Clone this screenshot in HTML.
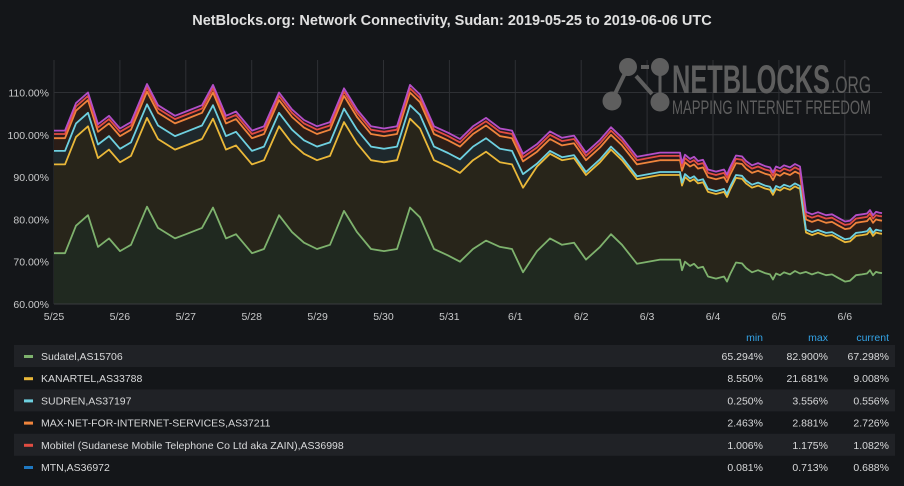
<!DOCTYPE html>
<html><head><meta charset="utf-8"><style>
html,body{margin:0;padding:0;background:#141619;width:904px;height:486px;overflow:hidden;font-family:"Liberation Sans",sans-serif}
svg{display:block}
</style></head><body>
<svg id="s" width="904" height="486" xmlns="http://www.w3.org/2000/svg">
<rect width="904" height="486" fill="#141619"/>
<text x="452" y="25" text-anchor="middle" fill="#e0e0e0" font-size="14.5" font-weight="bold" font-family="Liberation Sans, sans-serif">NetBlocks.org: Network Connectivity, Sudan: 2019-05-25 to 2019-06-06 UTC</text>
<g id="grid"></g>
<g id="logo" fill="#5e5e5e" stroke="#5e5e5e">
 <line x1="628" y1="67" x2="660" y2="67" stroke-width="4" stroke-dasharray="8,5"/>
 <line x1="628" y1="67" x2="612" y2="100" stroke-width="4"/>
 <line x1="636" y1="76" x2="652" y2="94" stroke-width="4"/>
 <line x1="660" y1="67" x2="660" y2="102" stroke-width="3"/>
 <circle cx="628" cy="67" r="9" stroke="none"/>
 <circle cx="660" cy="67" r="9" stroke="none"/>
 <circle cx="612" cy="101" r="9.5" stroke="none"/>
 <circle cx="660" cy="102" r="9.5" stroke="none"/>
 <text x="672" y="93" font-size="40" font-weight="bold" stroke="none" textLength="158" lengthAdjust="spacingAndGlyphs" font-family="Liberation Sans Narrow, Liberation Sans, sans-serif">NETBLOCKS</text>
 <text x="831" y="93" font-size="24" stroke="none" textLength="40" lengthAdjust="spacingAndGlyphs" font-family="Liberation Sans Narrow, Liberation Sans, sans-serif">.ORG</text>
 <text x="672" y="114" font-size="19" stroke="none" textLength="199" lengthAdjust="spacingAndGlyphs" font-family="Liberation Sans Narrow, Liberation Sans, sans-serif">MAPPING INTERNET FREEDOM</text>
</g>
<g id="plot"></g>
<g id="axes" font-size="10.5" fill="#c8c9ca" font-family="Liberation Sans, sans-serif"></g>
<g id="legend" font-size="10.5" font-family="Liberation Sans, sans-serif"></g>
</svg>
<script>
var NS="http://www.w3.org/2000/svg";
function el(t,a,p,txt){var e=document.createElementNS(NS,t);for(var k in a)e.setAttribute(k,a[k]);if(txt!=null)e.textContent=txt;(p||document.getElementById('s')).appendChild(e);return e;}
var X0=54,X1=882,Y60=304,PX=4.23;
function Y(v){return Y60-(v-60)*PX;}
var grid=document.getElementById('grid'),axes=document.getElementById('axes');
for(var v=60;v<=110;v+=10){el('line',{x1:X0,x2:X1,y1:Y(v),y2:Y(v),stroke:'#2e3034','stroke-width':1},grid);
 el('text',{x:49,y:Y(v)+4,'text-anchor':'end'},axes,v.toFixed(2)+'%');}
var days=['5/25','5/26','5/27','5/28','5/29','5/30','5/31','6/1','6/2','6/3','6/4','6/5','6/6'];
for(var i=0;i<days.length;i++){var x=X0+i*65.9;
 el('line',{x1:x,x2:x,y1:60,y2:Y60,stroke:'#2e3034','stroke-width':1},grid);
 el('text',{x:x,y:320,'text-anchor':'middle'},axes,days[i]);}
var g=[[54,72],[65,72],[76,78.5],[88,81],[98,73.5],[109,75.5],[120,72.5],[131,74],[147,83],[158,78],[175,75.5],[186,76.5],[202,78],[213,82.8],[226,75.5],[236,76.5],[252,72],[264,73],[279,81],[292,77],[304,74.5],[317,73],[330,74],[344,82],[357,77],[371,73],[384,72.5],[397,73],[410,82.8],[420,80.5],[434,73],[448,71.5],[460,70],[473,73],[486,75],[500,73.5],[512,73],[523,67.5],[537,72.5],[550,75.5],[562,74],[574,74.5],[586,70.5],[600,73.5],[611,76.5],[622,74],[637,69.5],[660,70.5],[680,70.5],[682,68],[685,70],[690,69],[694,69.5],[698,68.5],[703,68.8],[708,66.5],[716,66],[724,66.5],[727,65.3],[730,67],[736,69.8],[742,69.6],[746,68.5],[752,67.5],[758,68],[765,67.3],[770,67],[773,65.8],[776,67.2],[780,66.8],[784,67.5],[790,67],[795,67.8],[800,67.2],[806,67.6],[812,67],[818,67.5],[826,66.8],[832,67],[838,66.2],[845,65.3],[850,65.5],[856,66.8],[862,67],[867,67.2],[870,68],[873,66.8],[876,67.6],[879,67.4],[882,67.3]];
function dy(x){return x<500?21:(x<804?20:9.3);}
function dc(x){return x<530?3.2:0.7;}
function dor(x){return x<530?3:(x<804?2.8:2.4);}
var series=[[],[],[],[],[],[]];
g.forEach(function(p){var x=p[0],a=p[1];var y=a+dy(x),c=y+dc(x),o=c+dor(x),r=o+1,t=r+0.8;
 series[0].push([x,a]);series[1].push([x,y]);series[2].push([x,c]);series[3].push([x,o]);series[4].push([x,r]);series[5].push([x,t]);});
var cols=['#7eb26d','#eab839','#6ed0e0','#ef843c','#e24d42','#b44fc8'];
var fills=['#1f2a22','#2a2418','#1c2a30','#2c1e16','#2a1a1a','#241a28'];
var plot=document.getElementById('plot');
function pts(s){return s.map(function(p){return p[0]+','+Y(p[1]).toFixed(1)}).join(' ');}
for(var k=5;k>=0;k--){var s=series[k];
 el('polygon',{points:pts(s)+' '+X1+','+Y60+' '+X0+','+Y60,fill:fills[k],'fill-opacity':0.85},plot);}
for(var k=0;k<6;k++){el('polyline',{points:pts(series[k]),fill:'none',stroke:cols[k],'stroke-width':1.8,'stroke-linejoin':'round'},plot);}
el('line',{x1:X0,x2:X1,y1:Y60,y2:Y60,stroke:'#3a3c40'},plot);
var lg=document.getElementById('legend');
el('text',{x:763,y:341,'text-anchor':'end',fill:'#33a2e5'},lg,'min');
el('text',{x:828,y:341,'text-anchor':'end',fill:'#33a2e5'},lg,'max');
el('text',{x:889,y:341,'text-anchor':'end',fill:'#33a2e5'},lg,'current');
var rows=[['Sudatel,AS15706','65.294%','82.900%','67.298%','#7eb26d'],['KANARTEL,AS33788','8.550%','21.681%','9.008%','#eab839'],['SUDREN,AS37197','0.250%','3.556%','0.556%','#6ed0e0'],['MAX-NET-FOR-INTERNET-SERVICES,AS37211','2.463%','2.881%','2.726%','#ef843c'],['Mobitel (Sudanese Mobile Telephone Co Ltd aka ZAIN),AS36998','1.006%','1.175%','1.082%','#e24d42'],['MTN,AS36972','0.081%','0.713%','0.688%','#1f78c1']];
rows.forEach(function(r,i){var yc=356+i*22.2;
 if(i%2==0)el('rect',{x:14,y:yc-11,width:881,height:22,fill:'#202226'},lg);
 el('rect',{x:24,y:yc-1,width:9,height:3,fill:r[4]},lg);
 el('text',{x:41,y:yc+4,fill:'#d8d9da'},lg,r[0]);
 el('text',{x:763,y:yc+4,'text-anchor':'end',fill:'#d8d9da'},lg,r[1]);
 el('text',{x:828,y:yc+4,'text-anchor':'end',fill:'#d8d9da'},lg,r[2]);
 el('text',{x:889,y:yc+4,'text-anchor':'end',fill:'#d8d9da'},lg,r[3]);});
</script>
</body></html>
